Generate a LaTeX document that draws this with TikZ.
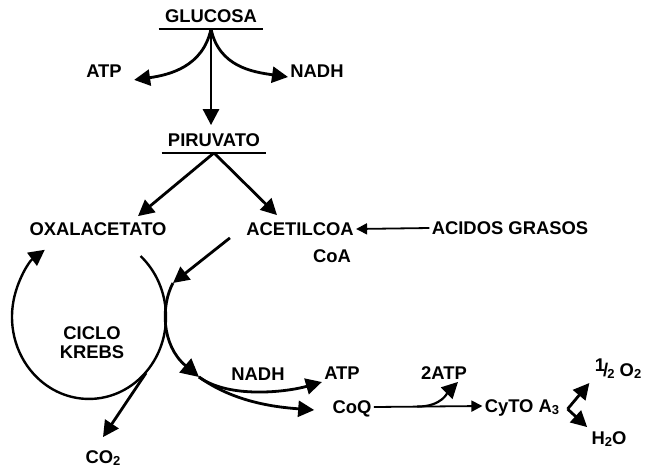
\documentclass[tikz,border=0pt]{standalone}
\usepackage{fontspec}
\setmainfont{Liberation Sans}
\usepackage{tikz}
\usetikzlibrary{arrows.meta,calc}
\newcommand{\lowsub}[1]{\raisebox{-0.25ex}{\fontsize{6.5}{7}\selectfont #1}}
\newcommand{\halfsign}{\raisebox{0.5ex}{1}\kern-0.1em/\kern-0.05em\lowsub{2}}

\begin{document}
\begin{tikzpicture}[x=0.5pt, y=-0.5pt,
    lbl/.style={font=\bfseries\fontsize{9.2}{10}\selectfont, inner sep=1pt, text height=6.5pt, text depth=0pt},
    twolbl/.style={font=\bfseries\fontsize{9.2}{9.5}\selectfont, inner sep=1pt, align=center},
    arr/.style={line width=1.4pt, -{Triangle[length=8pt,width=8pt]}},
    thinarr/.style={line width=0.9pt, -{Triangle[length=5.5pt,width=5.5pt]}},
    uline/.style={line width=1.4pt}]
%%%%% START %%%%%
\useasboundingbox (0,0) rectangle (653,472);

\node[lbl] (gluc) at (211,16) {GLUCOSA};
\node[lbl] (atp1) at (104,71) {ATP};
\node[lbl] (nadh1) at (317,71) {NADH};
\node[lbl] (piru) at (214,140) {PIRUVATO};
\node[lbl] (oxal) at (98,229) {OXALACETATO};
\node[lbl] (acet) at (300,229) {ACETILCOA};
\node[lbl] (coa) at (332,256) {CoA};
\node[lbl] (acid) at (510,228) {ACIDOS GRASOS};
\node[twolbl] (krebs) at (92,343) {CICLO\\KREBS};
\node[lbl] (co2) at (103,457) {CO\lowsub{2}};
\node[lbl] (nadh2) at (258,374) {NADH};
\node[lbl] (atp2) at (342,373) {ATP};
\node[lbl] (coq) at (352,407) {CoQ};
\node[lbl] (atp3) at (444,373) {2ATP};
\node[lbl] (cyto) at (522,406) {CyTO A\lowsub{3}};
\node[lbl] (o2) at (618,370) {\halfsign\ O\lowsub{2}};
\node[lbl] (h2o) at (609,438) {H\lowsub{2}O};

% underlines
\draw[uline] ([xshift=-2pt,yshift=-2pt]gluc.south west) -- ([xshift=2pt,yshift=-2pt]gluc.south east);
\draw[uline] ([xshift=-2pt,yshift=-2pt]piru.south west) -- ([xshift=2pt,yshift=-2pt]piru.south east);
\coordinate (gbr) at ([yshift=-2pt]gluc.south);
\coordinate (pbr) at ([yshift=-2pt]piru.south);

% glucolisis
\draw[arr] (gbr) .. controls +(-8,38) and +(35,-5) .. ([xshift=5pt]atp1.south east);
\draw[arr] (gbr) .. controls +(8,38) and +(-35,-5) .. ([yshift=-3pt]nadh1.west);
\draw[arr, shorten >=3pt] (gbr) -- (gbr |- piru.north);
\draw[arr] (pbr) -- ([xshift=20pt,yshift=2pt]oxal.north);
\draw[arr] (pbr) -- ([xshift=-11.5pt,yshift=2.5pt]acet.north);
\draw[thinarr] (acid.west) -- (acet.east);

% ciclo
\coordinate (kin) at (173,283);
\coordinate (kout) at (199,377);
\coordinate (kco) at (146,373);
\draw[arr] ([xshift=-7pt]acet.south west) -- (kin);
\draw[line width=1.2pt, -{Triangle[length=8pt,width=8pt]}] (140.5,256) arc[start angle=-48, end angle=235, x radius=77, y radius=82];
\draw[arr, -{Triangle[length=9pt,width=9pt]}] (kin) .. controls (161,305) and (161,345) .. (kout);
\draw[arr] (kout) .. controls +(30,22) and +(-35,10) .. ([yshift=-4.5pt]atp2.west);
\draw[arr] (kout) .. controls +(35,25) and +(-40,-3) .. ([xshift=-8pt,yshift=-1.5pt]coq.west);
\draw[arr] (kco) -- ([yshift=5.5pt]co2.north);

% cadena respiratoria
\draw[thinarr] (coq.east) -- (cyto.west);
\coordinate (tbr) at ($(coq.east)!0.4!(cyto.west)$);
\draw[arr, line width=1.1pt] (tbr) .. controls +(25,0) and +(-10,10) .. ([xshift=7pt]atp3.south);
\coordinate (bv) at ([xshift=3pt,yshift=-1.5pt]cyto.east);
\draw[arr] (bv) -- ([xshift=-1.5pt,yshift=-6.5pt]o2.west);
\draw[arr] (bv) -- ([xshift=-1pt,yshift=1pt]h2o.north west);
%%%%% END %%%%%
\end{tikzpicture}
\end{document}
